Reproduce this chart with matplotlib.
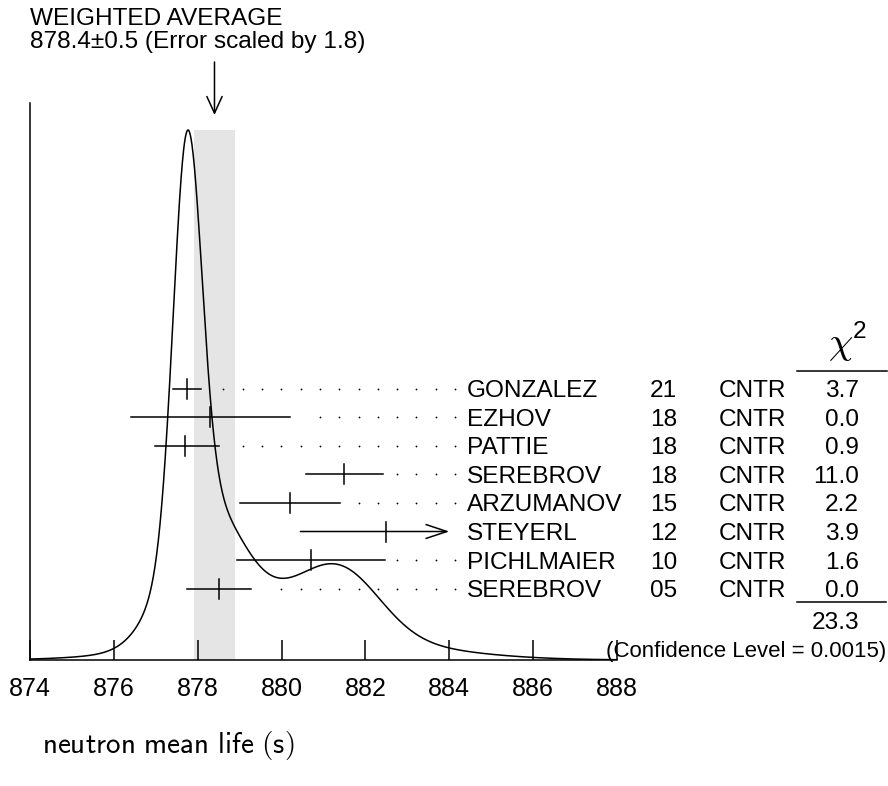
import matplotlib
matplotlib.use("Agg")
import matplotlib.pyplot as plt
import numpy as np

plt.rcParams["font.family"] = ["Liberation Sans", "DejaVu Sans"]
plt.rcParams["mathtext.fontset"] = "cm"

# 측정값들 (PDG ideogram, neutron mean life)
names = ["GONZALEZ", "EZHOV", "PATTIE", "SEREBROV", "ARZUMANOV", "STEYERL", "PICHLMAIER", "SEREBROV"]
years = ["21", "18", "18", "18", "15", "12", "10", "05"]
techs = ["CNTR"] * 8
values = [877.75, 878.3, 877.7, 881.5, 880.2, 882.5, 880.7, 878.5]
err_lo = [0.33, 1.9, 0.73, 0.92, 1.2, 2.05, 1.77, 0.76]
err_hi = [0.34, 1.9, 0.81, 0.92, 1.2, 2.05, 1.77, 0.76]
chi2 = ["3.7", "0.0", "0.9", "11.0", "2.2", "3.9", "1.6", "0.0"]
chi2_sum = "23.3"
conf_level = "0.0015"
avg, avg_err, scale = 878.4, 0.5, 1.8
xticks = [874, 876, 878, 880, 882, 884, 886, 888]

W, H = 888, 786
FS = 17.6


# 픽셀 -> figure 좌표
def fx(x):
    return x / W


def fy(y):
    return 1 - y / H


ax_l, ax_r, ax_b, ax_t = 30, 617, 660, 103
fig = plt.figure(figsize=(W / 100, H / 100), dpi=100)
ax = fig.add_axes([fx(ax_l), fy(ax_b), (ax_r - ax_l) / W, (ax_b - ax_t) / H])
ax.set_xlim(874, 888)
ax.set_ylim(0, 1)


def ay(y):
    # 픽셀 y -> axes 비율
    return (ax_b - y) / (ax_b - ax_t)


peak = ay(130)

# ideogram: 각 측정을 면적 1/sigma 인 가우시안으로 합산
xs = np.linspace(874, 888, 1400)
curve = np.zeros_like(xs)
for v, lo, hi in zip(values, err_lo, err_hi):
    s = np.where(xs < v, lo, hi)
    sm = 0.5 * (lo + hi)
    curve += np.exp(-0.5 * ((xs - v) / s) ** 2) / sm ** 2
curve = curve / curve.max() * peak

ax.axvspan(avg - avg_err, avg + avg_err, ymin=0, ymax=peak, color="#e5e5e5", lw=0, zorder=0)
ax.plot(xs, curve, color="black", lw=1.1, zorder=3)

# 측정 행들
row_y = [388.5 + 28.6 * i for i in range(len(names))]
dot_last, dot_step = 884.14, 0.461
for i, (v, lo, hi) in enumerate(zip(values, err_lo, err_hi)):
    y = ay(row_y[i])
    if names[i] == "STEYERL" and years[i] == "12":
        ax.annotate("", xy=(884.0, y), xytext=(v - lo, y),
                    arrowprops=dict(arrowstyle="->,head_length=1.5,head_width=0.5",
                                    lw=1.1, color="black", shrinkA=0, shrinkB=0))
    else:
        ax.plot([v - lo, v + hi], [y, y], color="black", lw=1.1)
        dx = dot_last
        dots = []
        while dx > v + hi + 0.28:
            dots.append(dx)
            dx -= dot_step
        ax.plot(dots, [y] * len(dots), "o", color="black", ms=1.3, mew=0)
    ax.plot([v, v], [y - 10 / 557, y + 10 / 557], color="black", lw=1.1)

    yb = row_y[i] + 8.5
    fig.text(fx(467), fy(yb), names[i], fontsize=FS, va="baseline", ha="left")
    fig.text(fx(650), fy(yb), years[i], fontsize=FS, va="baseline", ha="left")
    fig.text(fx(719), fy(yb), techs[i], fontsize=FS, va="baseline", ha="left")
    fig.text(fx(859), fy(yb), chi2[i], fontsize=FS, va="baseline", ha="right")

# chi^2 헤더, 밑줄, 합계
fig.text(fx(841), fy(354), r"$\chi$", fontsize=28, va="baseline", ha="center")
fig.text(fx(853), fy(338), "2", fontsize=FS, va="baseline", ha="left")
fig.add_artist(plt.Line2D([fx(797), fx(887)], [fy(371), fy(371)], color="black", lw=1.1))
fig.add_artist(plt.Line2D([fx(797), fx(886)], [fy(602), fy(602)], color="black", lw=1.1))
fig.text(fx(859), fy(629), chi2_sum, fontsize=FS, va="baseline", ha="right")
fig.text(fx(886), fy(657), f"(Confidence Level = {conf_level})", fontsize=16,
         va="baseline", ha="right")

# 가중평균 표시
fig.text(fx(30), fy(25), "WEIGHTED AVERAGE", fontsize=FS, va="baseline")
fig.text(fx(30), fy(48), f"{avg}\u00b1{avg_err} (Error scaled by {scale})", fontsize=FS,
         va="baseline")
ax.annotate("", xy=(avg, H - 115), xytext=(avg, H - 62),
            xycoords=("data", "figure pixels"), textcoords=("data", "figure pixels"),
            arrowprops=dict(arrowstyle="->,head_length=1.2,head_width=0.55",
                            lw=1.1, color="black", shrinkA=0, shrinkB=0))

# 축
for side in ["top", "right"]:
    ax.spines[side].set_visible(False)
ax.spines["left"].set_linewidth(1.1)
ax.spines["bottom"].set_linewidth(1.1)
ax.set_yticks([])
ax.set_xticks(xticks)
ax.set_xticklabels([str(t) for t in xticks], fontsize=18)
ax.tick_params(axis="x", direction="in", length=14.4, width=1.1, pad=12)

fig.text(fx(42), fy(745), r"$\mathsf{neutron\ mean\ life\ (s)}$", fontsize=21,
         va="center", ha="left")

fig.savefig("out.png", dpi=100)
